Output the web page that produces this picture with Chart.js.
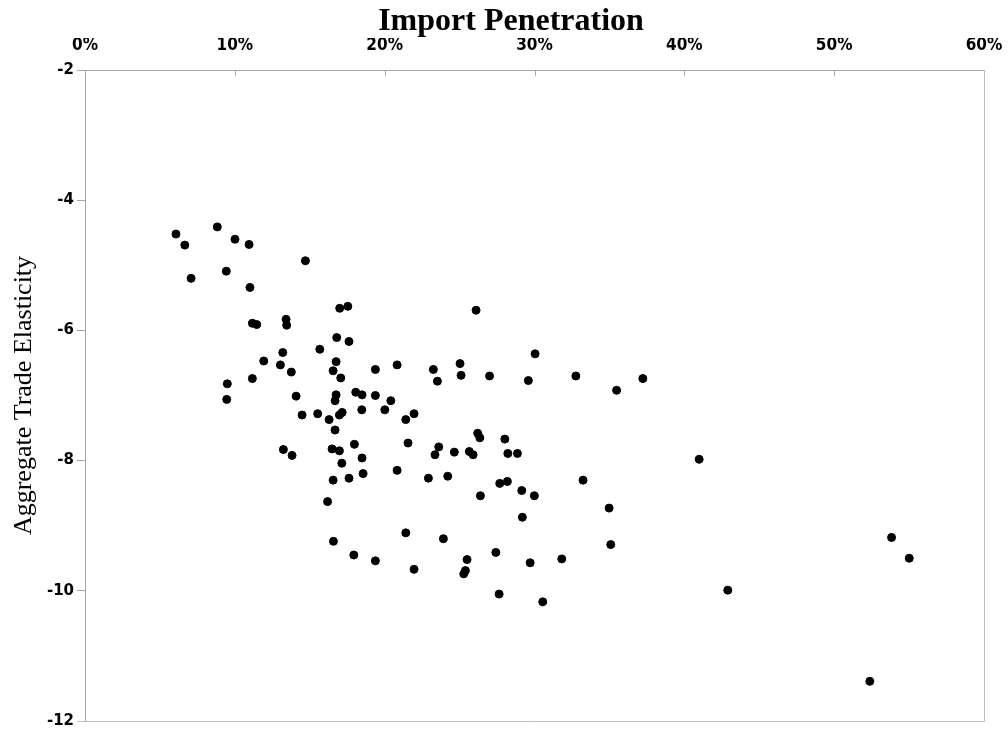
<!DOCTYPE html>
<html>
<head>
<meta charset="utf-8">
<script src="https://cdn.jsdelivr.net/npm/chart.js@4.4.1/dist/chart.umd.min.js"></script>
<style>
  html, body { margin: 0; padding: 0; background: #fff; }
  #wrap { width: 1008px; height: 734px; }
</style>
</head>
<body>
<div id="wrap"><canvas id="scatter" width="1008" height="734"></canvas></div>
<script>
// import penetration (%), one entry per industry
const importPen = [
  6.07, 8.83, 6.66, 10.01, 10.95, 14.71, 9.43, 7.08, 11.01, 17.00,
  17.54, 11.17, 11.46, 13.42, 13.46, 16.80, 17.62, 15.67, 13.20, 11.93,
  13.04, 13.77, 16.76, 16.56, 17.07, 19.38, 20.83, 23.25, 23.52, 9.50,
  11.17, 9.46, 14.09, 16.76, 16.69, 18.07, 18.49, 19.38, 20.41, 18.47,
  20.01, 14.49, 15.53, 16.29, 16.98, 17.16, 21.41, 21.96, 16.69, 26.10,
  25.03, 25.10, 27.00, 26.21, 26.35, 28.02, 28.22, 13.24, 13.82, 16.49,
  16.98, 17.98, 18.49, 17.14, 21.56, 23.61, 23.36, 24.65, 25.65, 25.90,
  16.56, 17.62, 18.56, 20.83, 22.92, 24.21, 27.68, 28.19, 26.39, 16.19,
  30.04, 29.59, 32.76, 35.48, 37.23, 28.86, 29.15, 29.99, 33.24, 34.98,
  29.19, 40.99, 21.41, 23.92, 16.58, 17.94, 19.38, 21.96, 25.50, 25.39,
  25.28, 27.42, 29.71, 31.82, 35.09, 27.64, 30.55, 42.90, 53.83, 55.01,
  52.38
];

// aggregate trade elasticity, same order
const elasticity = [
  -4.52, -4.41, -4.69, -4.60, -4.68, -4.93, -5.09, -5.20, -5.34, -5.66,
  -5.63, -5.89, -5.91, -5.83, -5.92, -6.11, -6.17, -6.29, -6.34, -6.47,
  -6.53, -6.64, -6.48, -6.62, -6.73, -6.60, -6.53, -6.60, -6.78, -6.82,
  -6.74, -7.06, -7.01, -6.99, -7.08, -6.95, -6.99, -7.00, -7.08, -7.22,
  -7.22, -7.30, -7.28, -7.37, -7.30, -7.26, -7.37, -7.28, -7.53, -5.69,
  -6.51, -6.69, -6.70, -7.58, -7.65, -7.67, -7.89, -7.83, -7.92, -7.82,
  -7.85, -7.75, -7.96, -8.04, -7.73, -7.79, -7.91, -7.87, -7.86, -7.91,
  -8.30, -8.27, -8.20, -8.15, -8.27, -8.24, -8.35, -8.32, -8.54, -8.63,
  -6.36, -6.77, -6.70, -6.92, -6.74, -7.89, -8.46, -8.54, -8.30, -8.73,
  -8.87, -7.98, -9.11, -9.20, -9.24, -9.45, -9.54, -9.67, -9.52, -9.69,
  -9.74, -9.41, -9.57, -9.51, -9.29, -10.05, -10.17, -9.99, -9.18, -9.50,
  -11.39
];

const xTickValues = [0, 10, 20, 30, 40, 50, 60];
const yTickValues = [-2, -4, -6, -8, -10, -12];

const points = importPen.map((x, i) => ({ x: x, y: elasticity[i] }));

const axisGrey = "#a6a6a6";
const titleHeight = 38; // title block: 32px line + 6px top padding

// plot frame (right + bottom) and the short inward ticks on the top axis
const framePlugin = {
  id: "frame",
  afterLayout(chart) {
    // the original title sits a bit left of the plot centre
    if (chart.titleBlock) chart.titleBlock.left = 38;
  },
  afterDatasetsDraw(chart) {
    const { ctx, chartArea: a, scales } = chart;
    ctx.save();
    ctx.lineWidth = 1;
    ctx.strokeStyle = "#bdbdbd";
    ctx.beginPath();
    ctx.moveTo(a.right + 0.5, a.top);
    ctx.lineTo(a.right + 0.5, a.bottom + 0.5);
    ctx.lineTo(a.left - 8, a.bottom + 0.5);
    ctx.stroke();
    ctx.strokeStyle = axisGrey;
    ctx.beginPath();
    xTickValues.slice(1, -1).forEach((v) => {
      const px = Math.round(scales.x.getPixelForValue(v)) + 0.5;
      ctx.moveTo(px, a.top);
      ctx.lineTo(px, a.top + 6);
    });
    ctx.stroke();
    ctx.restore();
  },
};

new Chart(document.getElementById("scatter"), {
  type: "scatter",
  data: {
    datasets: [
      {
        label: "Industries",
        data: points,
        backgroundColor: "#000",
        borderColor: "#000",
        pointRadius: 4,
        pointHoverRadius: 4,
      },
    ],
  },
  options: {
    responsive: false,
    animation: false,
    layout: { padding: { left: 0, top: 0, right: 24, bottom: 13 } },
    plugins: {
      legend: { display: false },
      tooltip: { enabled: false },
      title: {
        display: true,
        text: "Import Penetration",
        color: "#000",
        padding: { top: 6, bottom: 0 },
        font: { family: "'Liberation Serif', serif", size: 32, weight: "bold", lineHeight: 1 },
      },
    },
    scales: {
      x: {
        type: "linear",
        position: "top",
        min: 0,
        max: 60,
        afterFit: (scale) => {
          scale.height = 70 - titleHeight;
          scale.paddingLeft = 0;
          scale.paddingRight = 0;
        },
        afterBuildTicks: (scale) => {
          scale.ticks = xTickValues.map((v) => ({ value: v }));
        },
        border: { display: true, color: axisGrey, width: 1 },
        grid: { display: false, drawTicks: false },
        ticks: {
          color: "#000",
          padding: 16,
          maxRotation: 0,
          font: { family: "'Liberation Sans Narrow', 'DejaVu Sans Condensed', sans-serif", size: 17, weight: "bold", lineHeight: 1 },
          callback: (v) => v + "%",
        },
      },
      y: {
        type: "linear",
        min: -12,
        max: -2,
        afterFit: (scale) => { scale.width = 85; },
        afterBuildTicks: (scale) => {
          scale.ticks = yTickValues.map((v) => ({ value: v }));
        },
        border: { display: true, color: axisGrey, width: 1 },
        grid: {
          display: true,
          drawOnChartArea: false,
          drawTicks: true,
          tickLength: 8,
          color: axisGrey,
        },
        ticks: {
          color: "#000",
          padding: 3,
          font: { family: "'DejaVu Sans', sans-serif", size: 15, weight: "bold" },
        },
        title: {
          display: true,
          text: "Aggregate Trade Elasticity",
          color: "#000",
          padding: { top: 9, bottom: 0 },
          font: { family: "'Liberation Serif', serif", size: 26 },
        },
      },
    },
  },
  plugins: [framePlugin],
});
</script>
</body>
</html>
